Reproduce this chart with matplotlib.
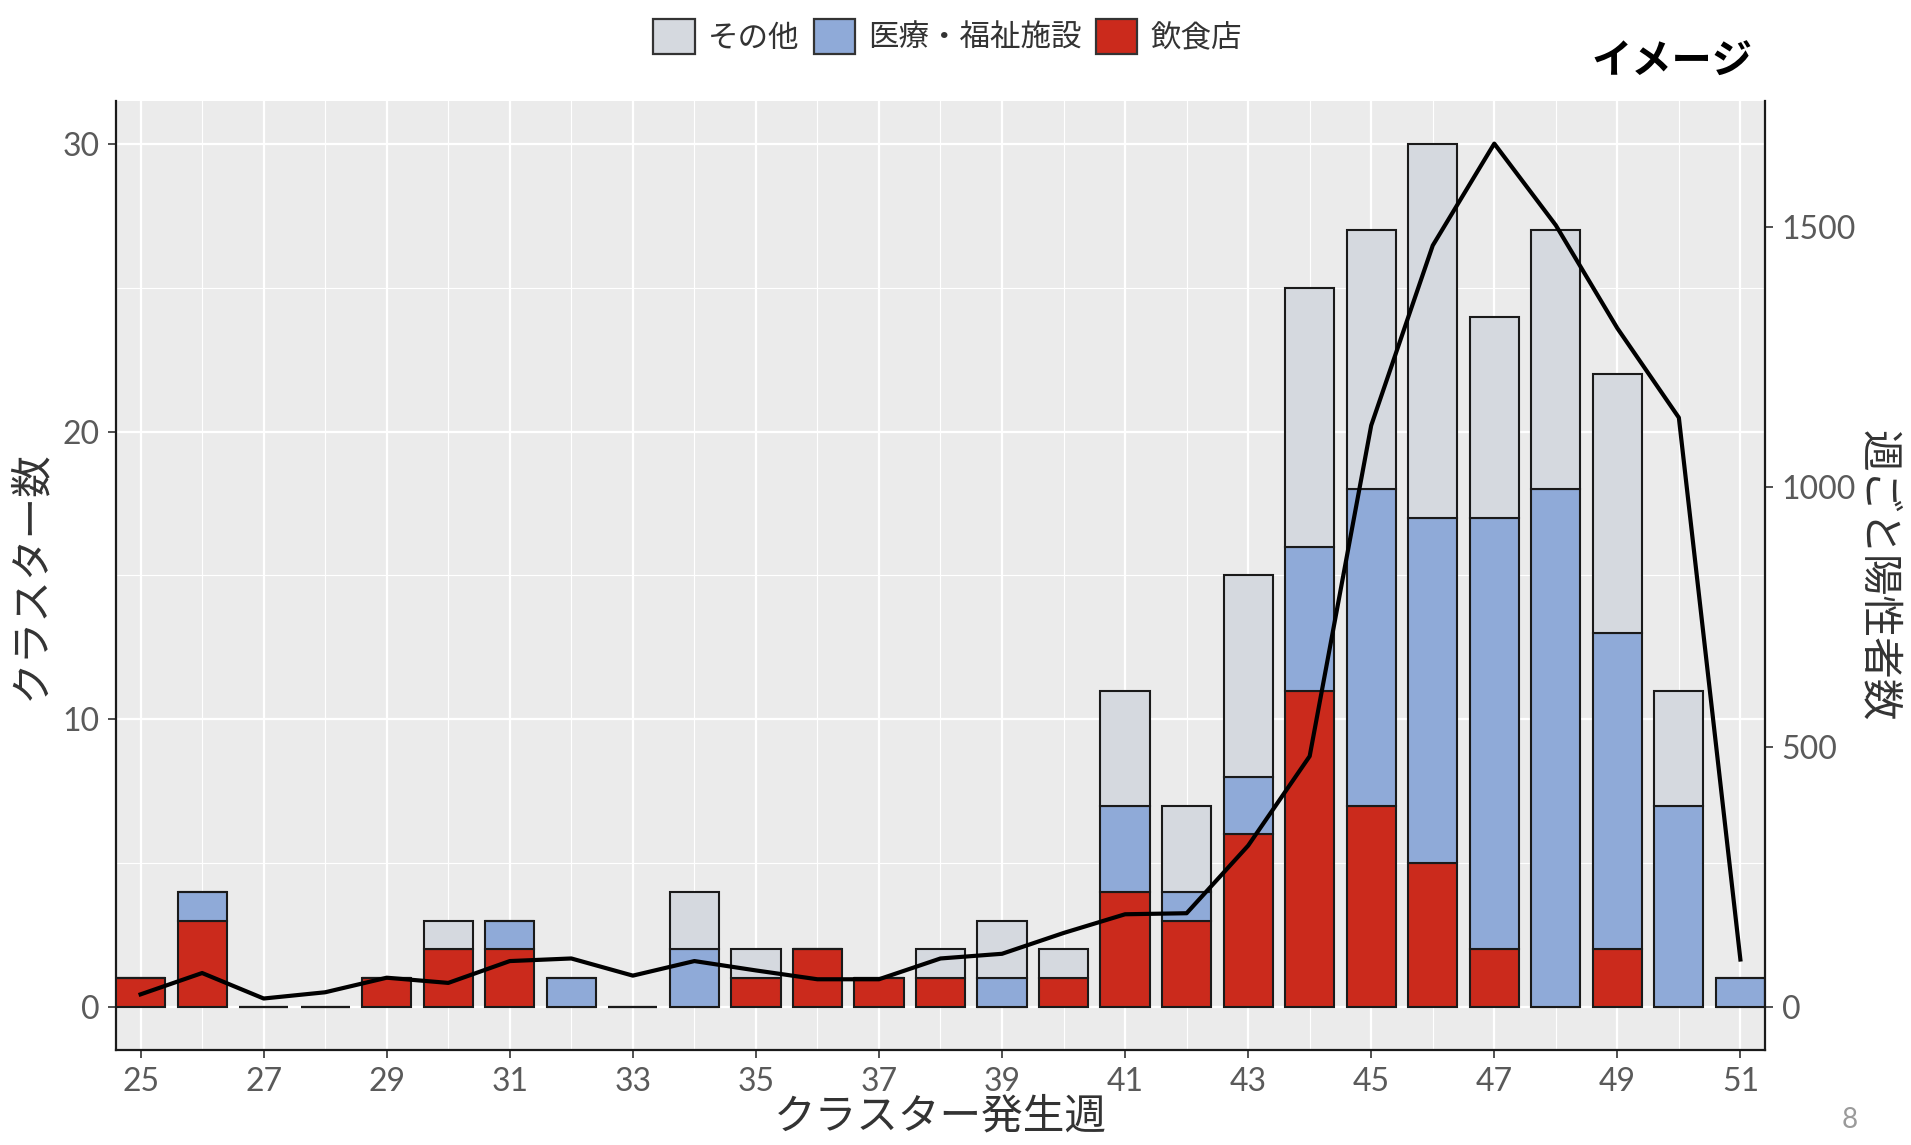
import matplotlib
matplotlib.use("Agg")
import matplotlib.pyplot as plt
from matplotlib.patches import Patch
import numpy as np

plt.rcParams["font.family"] = ["Noto Sans CJK JP", "DejaVu Sans"]

# weekly cluster counts by setting (stacked bottom -> top)
weeks = list(range(25, 52))
restaurants = [1, 3, 0, 0, 1, 2, 2, 0, 0, 0, 1, 2, 1, 1, 0, 1, 4, 3, 6, 11, 7, 5, 2, 0, 2, 0, 0]
medical = [0, 1, 0, 0, 0, 0, 1, 1, 0, 2, 0, 0, 0, 0, 1, 0, 3, 1, 2, 5, 11, 12, 15, 18, 11, 7, 1]
other = [0, 0, 0, 0, 0, 1, 0, 0, 0, 2, 1, 0, 0, 1, 2, 1, 4, 3, 7, 9, 9, 13, 7, 9, 9, 4, 0]

# weekly positive cases (secondary axis)
positives = [24, 65, 16, 28, 56, 46, 88, 93, 60, 88, 70, 53, 53, 93, 102, 142, 178, 180,
             310, 482, 1118, 1464, 1660, 1503, 1305, 1133, 91]

labels = ["その他", "医療・福祉施設", "飲食店"]
colors = {"その他": "#D5D9DF", "医療・福祉施設": "#8FAAD8", "飲食店": "#CB2A1C"}

SEC_RATIO = 55.3  # positives per cluster unit on the right axis
GREY_TXT = "#5A5A5A"
TICK_FONT = dict(family=["Lato", "DejaVu Sans"], weight="normal", size=23)

fig = plt.figure(figsize=(19.11, 11.45), dpi=100)
ax = fig.add_axes([0.0607, 0.0830, 0.8629, 0.8288])
ax.set_facecolor("#EBEBEB")

x = np.array(weeks)
r = np.array(restaurants)
m = np.array(medical)
o = np.array(other)
bw = 0.8
kw = dict(width=bw, edgecolor="#1a1a1a", linewidth=1.5, zorder=3)
ax.bar(x, r, color=colors["飲食店"], **kw)
ax.bar(x, m, bottom=r, color=colors["医療・福祉施設"], **kw)
ax.bar(x, o, bottom=r + m, color=colors["その他"], **kw)

ax.set_xlim(24.6, 51.4)
ax.set_ylim(-1.5, 31.5)
ax.set_xticks(range(25, 52, 2))
ax.set_xticks(range(26, 52, 2), minor=True)
ax.set_yticks([0, 10, 20, 30])
ax.set_yticks([5, 15, 25], minor=True)
ax.grid(which="major", color="white", linewidth=1.6, zorder=0)
ax.grid(which="minor", color="white", linewidth=0.8, zorder=0)
ax.set_axisbelow(True)
ax.tick_params(axis="both", which="major", length=6, width=1.2, color="#333333",
               labelcolor=GREY_TXT, pad=6)
ax.tick_params(axis="both", which="minor", length=0)
for side in ["top", "right"]:
    ax.spines[side].set_visible(False)
for side in ["left", "bottom"]:
    ax.spines[side].set_color("#1a1a1a")
    ax.spines[side].set_linewidth(1.6)
for lab in ax.get_xticklabels() + ax.get_yticklabels():
    lab.set(**TICK_FONT)

ax.set_xlabel("クラスター発生週", fontsize=30, color="#333333", labelpad=0)
ax.set_ylabel("クラスター数", fontsize=30, color="#333333", labelpad=8)

# secondary axis for weekly positives
ax2 = ax.twinx()
ax2.set_ylim(-1.5 * SEC_RATIO, 31.5 * SEC_RATIO)
ax2.plot(x, positives, color="black", linewidth=3.0, zorder=5,
         solid_joinstyle="round")
ax2.set_yticks([0, 500, 1000, 1500])
ax2.tick_params(axis="y", length=6, width=1.2, color="#333333",
                labelcolor=GREY_TXT, pad=6)
for lab in ax2.get_yticklabels():
    lab.set(**TICK_FONT)
for side in ["top", "left", "bottom"]:
    ax2.spines[side].set_visible(False)
ax2.spines["right"].set_color("#1a1a1a")
ax2.spines["right"].set_linewidth(1.6)
ax2.set_ylabel("週ごと陽性者数", fontsize=30, color="#333333", rotation=-90,
               labelpad=30)

handles = [Patch(facecolor=colors[k], edgecolor="#333333", linewidth=1.6) for k in labels]
fig.legend(handles, labels, loc="center", bbox_to_anchor=(0.496, 0.968), ncol=3,
           frameon=False, fontsize=22, handlelength=1.35, handleheight=1.35,
           handletextpad=0.45, columnspacing=0.45, labelcolor="#333333")

fig.text(0.875, 0.946, "イメージ", fontsize=29, fontweight="bold", ha="center",
         va="center", color="black")
fig.text(0.968, 0.022, "8", fontsize=20, color="#9A9A9A", ha="center", va="center",
         family=["Lato", "DejaVu Sans"])

fig.savefig("out.png", dpi=100)
